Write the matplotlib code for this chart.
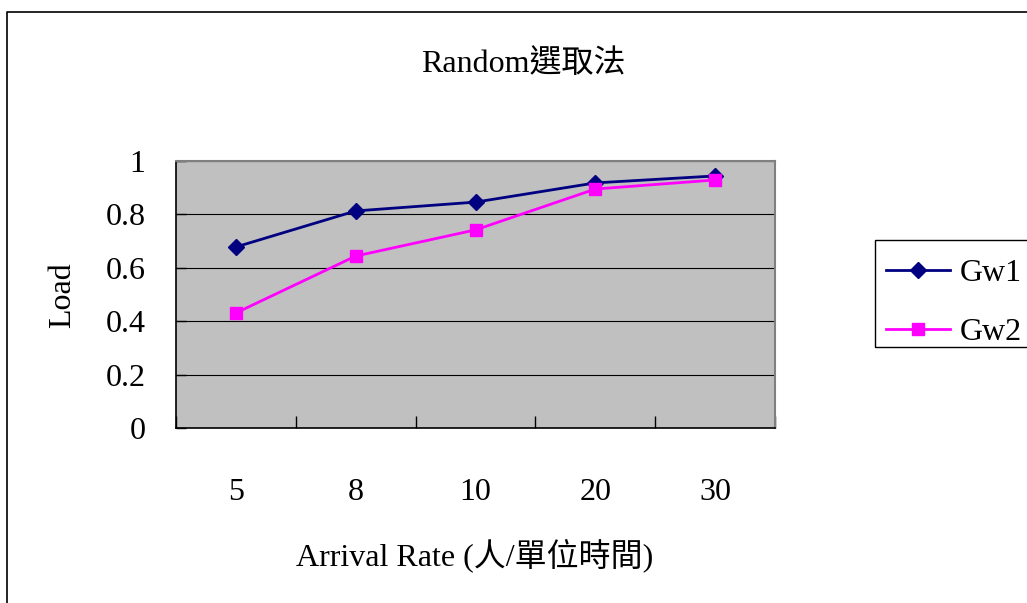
import matplotlib
matplotlib.use('Agg')
from matplotlib import pyplot as plt
from matplotlib.lines import Line2D
from matplotlib.patches import Rectangle
import numpy as np

plt.rcParams['font.family'] = ['Liberation Serif', 'Noto Sans CJK TC', 'DejaVu Sans']

rates = ['5', '8', '10', '20', '30']
gw1 = [0.678, 0.813, 0.846, 0.918, 0.944]
gw2 = [0.431, 0.644, 0.742, 0.895, 0.929]
yticks = [0, 0.2, 0.4, 0.6, 0.8, 1]
ylabels = ['0', '0.2', '0.4', '0.6', '0.8', '1']

W, H = 1027, 603
fig = plt.figure(figsize=(W / 100, H / 100), dpi=100)
ax = fig.add_axes([176 / W, 1 - 428 / H, 599 / W, 267 / H])
ax.set_facecolor('#c0c0c0')

x = np.arange(len(rates))
ax.plot(x, gw1, color='#000080', lw=2, marker='D', ms=7.8, label='Gw1', clip_on=False)
ax.plot(x, gw2, color='#ff00ff', lw=2, marker='s', ms=9.2, label='Gw2', clip_on=False)

ax.set_xlim(-0.5, len(rates) - 0.5)
ax.set_ylim(0, 1)
ax.set_yticks(yticks)
ax.set_yticklabels(ylabels)
ax.set_xticks(x)
ax.set_xticklabels(rates)
ax.set_xticks(np.arange(len(rates) + 1) - 0.5, minor=True)
ax.yaxis.grid(True, color='black', lw=0.8)
ax.tick_params(axis='x', which='major', length=0, pad=36, labelsize=23)
ax.tick_params(axis='x', which='minor', direction='in', length=9, width=1)
ax.tick_params(axis='y', direction='in', length=7, width=1, pad=22, labelsize=23)
for side in ('left', 'bottom'):
    ax.spines[side].set_color('black')
    ax.spines[side].set_linewidth(1.2)
for side in ('top', 'right'):
    ax.spines[side].set_color('#808080')
    ax.spines[side].set_linewidth(1.5)

fig.text(523 / W, 1 - 64 / H, 'Random選取法', ha='center', va='center', fontsize=23)
fig.text(475 / W, 1 - 555 / H, 'Arrival Rate (人/單位時間)', ha='center', va='center', fontsize=23)
fig.text(63 / W, 1 - 295 / H, 'Load', ha='center', va='center', rotation=90, fontsize=23)

# legend box runs off the right edge
fig.add_artist(Rectangle((875 / W, 1 - 347 / H), 0.3, 107 / H, transform=fig.transFigure,
                         fill=False, edgecolor='black', lw=1))
fig.legend(loc='upper left', bbox_to_anchor=(864 / W, 1 - 236 / H), frameon=False,
           fontsize=23, handlelength=2.0, handletextpad=0.3, labelspacing=0.95, borderpad=0.2)

# chart area border
fig.add_artist(Line2D([7 / W, 7 / W, 1.01], [-0.01, 1 - 12 / H, 1 - 12 / H],
                      transform=fig.transFigure, color='black', lw=1.2))

fig.savefig('out.png', dpi=100)
